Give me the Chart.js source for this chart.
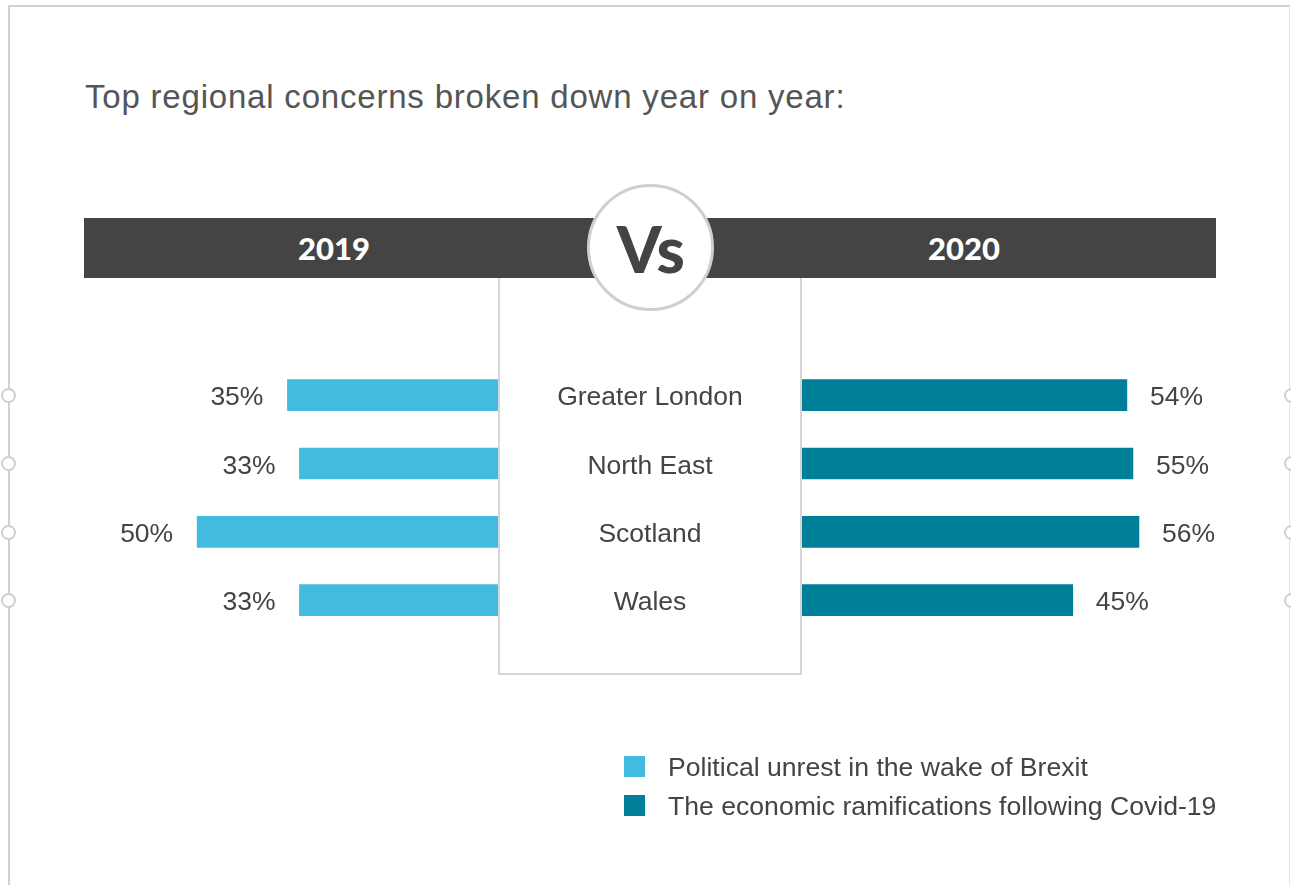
<!DOCTYPE html>
<html>
<head>
<meta charset="utf-8">
<script src="https://cdn.jsdelivr.net/npm/chart.js@4/dist/chart.umd.min.js"></script>
<style>
  html, body { margin:0; padding:0; background:#fff; }
  body { width:1291px; height:885px; position:relative; overflow:hidden; font-family:"Liberation Sans", Arial, Helvetica, sans-serif; }
  .abs { position:absolute; }
  #frame { left:8px; top:5px; width:1282px; height:900px; border-left:2px solid #d2d2d2; border-top:2px solid #d2d2d2; border-right:1px solid #e4e4e4; box-sizing:border-box; }
  .knob { width:15px; height:15px; border-radius:50%; background:#fff; border:2px solid #cfcfcf; box-sizing:border-box; }
  #title { left:85px; top:78px; font-size:33px; color:#555; white-space:nowrap; letter-spacing:0.8px; }
  #header { left:84px; top:218px; width:1132px; height:60px; background:#444; }
  .year { top:218px; height:60px; line-height:60px; width:200px; text-align:center; color:#fff; font-family:"Lato","DejaVu Sans",sans-serif; font-weight:900; font-size:31px; }
  #box { left:498px; top:270px; width:304px; height:405px; border:2px solid #d6d6d6; border-top:none; box-sizing:border-box; }
  #vs { left:587px; top:184px; width:127px; height:127px; border-radius:50%; background:#fff; border:3px solid #cfcfcf; box-sizing:border-box; text-align:center; line-height:123px; font-family:"Lato","DejaVu Sans",sans-serif; font-weight:900; font-size:64px; color:#444; letter-spacing:-0.5px; }
  .legsq { width:21px; height:21px; left:624px; }
  .legtx { left:668px; font-size:26.6px; color:#444; white-space:nowrap; line-height:30px; }
  #c { position:absolute; left:0; top:0; }
</style>
</head>
<body>
<div id="frame" class="abs"></div>
<div id="title" class="abs"></div>
<div id="box" class="abs"></div>
<div id="header" class="abs"></div>
<div id="yL" class="abs year"></div>
<div id="yR" class="abs year"></div>
<div id="vs" class="abs">Vs</div>
<canvas id="c" width="1291" height="885"></canvas>
<script>
const titleText = 'Top regional concerns broken down year on year:';
const categories = ['Greater London', 'North East', 'Scotland', 'Wales'];
const years = ['2019', '2020'];
const seriesNames = ['Political unrest in the wake of Brexit', 'The economic ramifications following Covid-19'];
const values2019 = [35, 33, 50, 33];
const values2020 = [54, 55, 56, 45];
const seriesColors = ['#43badf', '#007f98'];

document.getElementById('title').textContent = titleText;
const yL = document.getElementById('yL'); yL.textContent = years[0]; yL.style.left = (334 - 100) + 'px';
const yR = document.getElementById('yR'); yR.textContent = years[1]; yR.style.left = (964 - 100) + 'px';

// frame knobs
[395, 463, 532, 600].forEach(function (cy) {
  [8, 1291].forEach(function (cx) {
    const k = document.createElement('div');
    k.className = 'abs knob';
    k.style.left = (cx - 7.5) + 'px';
    k.style.top = (cy - 7.5) + 'px';
    document.body.insertBefore(k, document.getElementById('title'));
  });
});

// legend
seriesNames.forEach(function (name, i) {
  const sq = document.createElement('div');
  sq.className = 'abs legsq';
  sq.style.top = (756 + i * 39) + 'px';
  sq.style.background = seriesColors[i];
  document.body.appendChild(sq);
  const tx = document.createElement('div');
  tx.className = 'abs legtx';
  tx.style.top = (752 + i * 39) + 'px';
  tx.textContent = name;
  document.body.appendChild(tx);
});

const labelPlugin = {
  id: 'labelPlugin',
  afterDatasetsDraw(chart) {
    const ctx = chart.ctx;
    ctx.save();
    ctx.font = '26.5px "Liberation Sans", Arial, sans-serif';
    ctx.fillStyle = '#444';
    ctx.textBaseline = 'middle';
    chart.data.datasets.forEach(function (ds, di) {
      const meta = chart.getDatasetMeta(di);
      meta.data.forEach(function (el, i) {
        const txt = ds.data[i] + '%';
        if (di === 0) {
          ctx.textAlign = 'right';
          ctx.fillText(txt, el.x - 24, el.y + 3);
        } else {
          ctx.textAlign = 'left';
          ctx.fillText(txt, el.x + 23, el.y + 3);
        }
      });
    });
    const mid = chart.scales.xM;
    const cx = (mid.left + mid.right) / 2;
    ctx.textAlign = 'center';
    chart.data.labels.forEach(function (lab, i) {
      const y = chart.scales.y.getPixelForValue(i);
      ctx.fillText(lab, cx, y + 3);
    });
    ctx.restore();
  }
};

new Chart(document.getElementById('c'), {
  type: 'bar',
  data: {
    labels: categories,
    datasets: [
      { label: seriesNames[0], data: values2019, xAxisID: 'xL', backgroundColor: seriesColors[0], barThickness: 31, grouped: false },
      { label: seriesNames[1], data: values2020, xAxisID: 'xR', backgroundColor: seriesColors[1], barThickness: 31, grouped: false }
    ]
  },
  options: {
    indexAxis: 'y',
    responsive: false,
    animation: false,
    events: [],
    layout: { padding: { left: 137, right: 128, top: 361, bottom: 250.7 } },
    plugins: { legend: { display: false }, tooltip: { enabled: false }, title: { display: false } },
    scales: {
      y: { type: 'category', display: false, position: 'left' },
      xL: { type: 'linear', position: 'bottom', min: 0, max: 60, reverse: true, display: false, stack: 'x', stackWeight: 361, weight: 1 },
      xM: { type: 'linear', position: 'bottom', min: 0, max: 1, display: false, stack: 'x', stackWeight: 304, weight: 2 },
      xR: { type: 'linear', position: 'bottom', min: 0, max: 60, display: false, stack: 'x', stackWeight: 361, weight: 3 }
    }
  },
  plugins: [labelPlugin]
});
</script>
</body>
</html>
